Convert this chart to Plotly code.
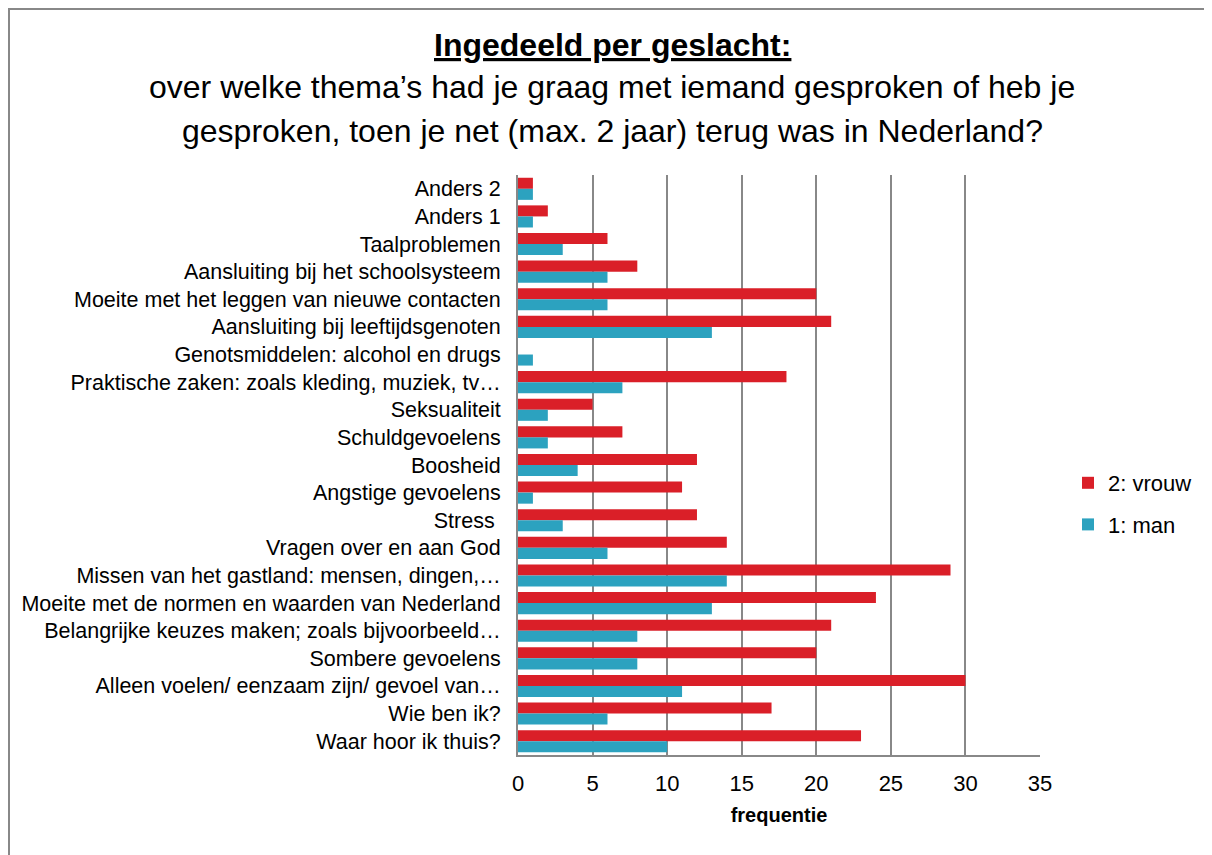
import plotly.graph_objects as go

categories = [
    "Anders 2",
    "Anders 1",
    "Taalproblemen",
    "Aansluiting bij het schoolsysteem",
    "Moeite met het leggen van nieuwe contacten",
    "Aansluiting bij leeftijdsgenoten",
    "Genotsmiddelen: alcohol en drugs",
    "Praktische zaken: zoals kleding, muziek, tv…",
    "Seksualiteit",
    "Schuldgevoelens",
    "Boosheid",
    "Angstige gevoelens",
    "Stress ",
    "Vragen over en aan God",
    "Missen van het gastland: mensen, dingen,…",
    "Moeite met de normen en waarden van Nederland",
    "Belangrijke keuzes maken; zoals bijvoorbeeld…",
    "Sombere gevoelens",
    "Alleen voelen/ eenzaam zijn/ gevoel van…",
    "Wie ben ik?",
    "Waar hoor ik thuis?",
]
vrouw = [1, 2, 6, 8, 20, 21, 0, 18, 5, 7, 12, 11, 12, 14, 29, 24, 21, 20, 30, 17, 23]
man = [1, 1, 3, 6, 6, 13, 1, 7, 2, 2, 4, 1, 3, 6, 14, 13, 8, 8, 11, 6, 10]
x_ticks = [0, 5, 10, 15, 20, 25, 30, 35]

RED = "#DA1F28"
TEAL = "#2CA2BF"
GRID = "#888888"
FONT = "Liberation Sans, Arial, sans-serif"

OFF = 8  # page body margin
# plot area in page pixels
L, R, T, B = 518 - OFF, 1040 - OFF, 175 - OFF, 755 - OFF
W, H = 1212, 855
pw, ph = R - L, B - T

def px(x):
    return (x - OFF - L) / pw

def py(y):
    return (B - (y - OFF)) / ph

def fx(x):
    # figure pixel -> paper x
    return (x - L) / pw

def fy(y):
    # figure pixel -> paper y
    return (B - y) / ph

fig = go.Figure()
fig.add_trace(go.Bar(y=categories, x=vrouw, name="2: vrouw", orientation="h",
                     marker=dict(color=RED, line=dict(width=0)), legendgroup="v"))
fig.add_trace(go.Bar(y=categories, x=man, name="1: man", orientation="h",
                     marker=dict(color=TEAL, line=dict(width=0)), legendgroup="m"))

fig.update_layout(
    width=W, height=H,
    margin=dict(l=L, r=W - R, t=T, b=H - B, autoexpand=False),
    paper_bgcolor="white", plot_bgcolor="white",
    barmode="group", bargap=0.2, bargroupgap=0,
    font=dict(family=FONT, size=22, color="#000000"),
    showlegend=True,
    legend=dict(x=px(1068), y=py(504), xanchor="left", yanchor="middle",
                traceorder="grouped", tracegroupgap=10,
                font=dict(size=22, family=FONT), bgcolor="rgba(0,0,0,0)",
                itemwidth=30),
    xaxis=dict(range=[0, 35], tickvals=x_ticks, showgrid=True, gridcolor=GRID,
               gridwidth=2, zeroline=False, showline=True, linecolor=GRID,
               linewidth=2, ticks="", ticklabelstandoff=8,
               tickfont=dict(size=22),
               title=dict(text="<b>frequentie</b>", font=dict(size=20), standoff=13)),
    yaxis=dict(autorange="reversed", showline=True, linecolor=GRID, linewidth=2,
               ticks="", ticklabelstandoff=11, showgrid=False,
               tickfont=dict(size=21.5)),
    shapes=[dict(type="rect", xref="paper", yref="paper",
                 x0=fx(1), x1=fx(1230), y0=fy(870), y1=fy(1),
                 line=dict(color=GRID, width=2), fillcolor="rgba(0,0,0,0)",
                 layer="below")],
    annotations=[
        dict(text="<b><u>Ingedeeld per geslacht:</u></b>", xref="paper", yref="paper",
             x=px(612), y=py(45), xanchor="center", yanchor="middle",
             showarrow=False, font=dict(size=32, family=FONT)),
        dict(text="over welke thema’s had je graag met iemand gesproken of heb je",
             xref="paper", yref="paper", x=px(612), y=py(87), xanchor="center",
             yanchor="middle", showarrow=False, font=dict(size=32, family=FONT)),
        dict(text="gesproken, toen je net (max. 2 jaar) terug was in Nederland?",
             xref="paper", yref="paper", x=px(612), y=py(131), xanchor="center",
             yanchor="middle", showarrow=False, font=dict(size=32, family=FONT)),
    ],
)

fig.write_html("out.html")
